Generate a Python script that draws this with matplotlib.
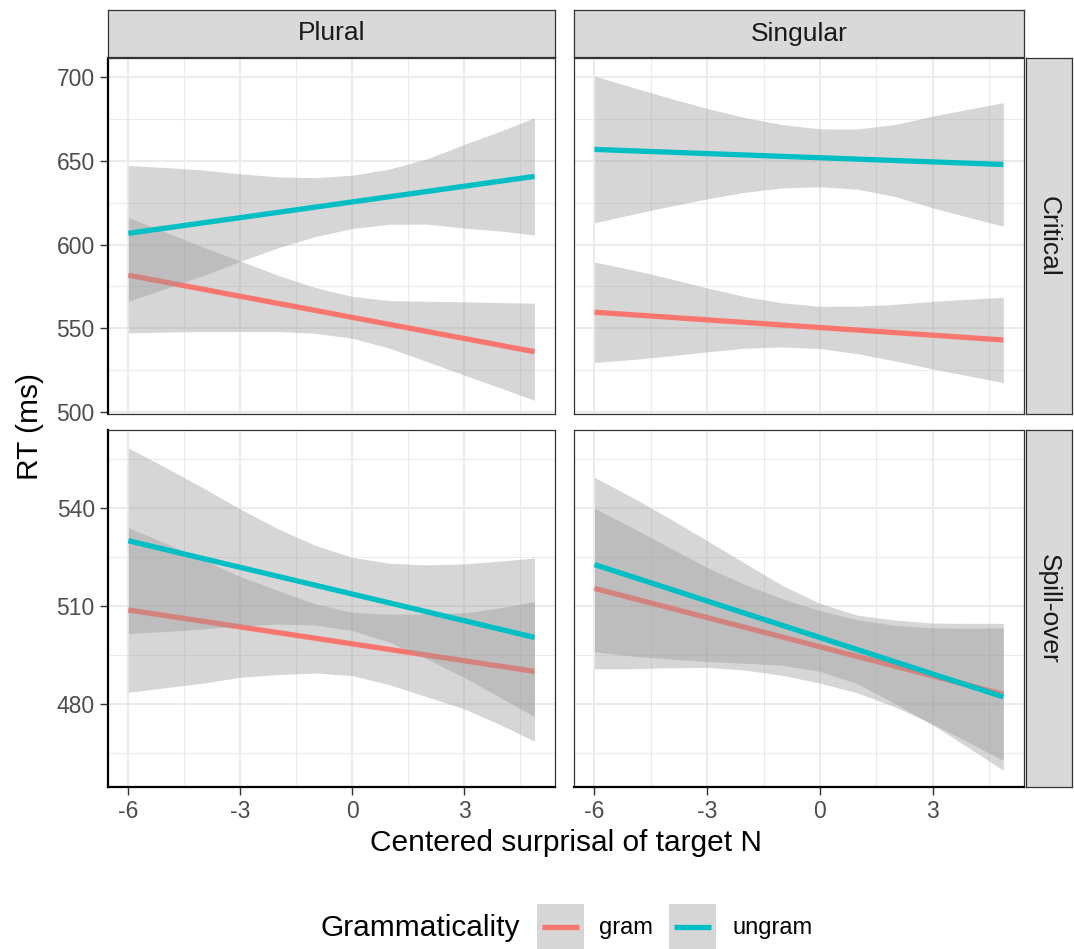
import matplotlib.pyplot as plt
from matplotlib.lines import Line2D
from matplotlib.patches import Rectangle

plt.rcParams['font.family'] = ['Liberation Sans', 'DejaVu Sans']
plt.rcParams['axes.unicode_minus'] = False

x_pts = [-6, -5, -4, -3, -2, -1, 0, 1, 2, 3, 4, 4.88]
# fitted lines: value at x = -6 and at x = 4.88
x_line = [-6, 4.88]

col_names = ['Plural', 'Singular']
row_names = ['Critical', 'Spill-over']
groups = ['gram', 'ungram']
colors = {'gram': '#F8766D', 'ungram': '#00BFC4'}

# Critical, Plural
crit_pl_gram_line = [581.7, 536.0]
crit_pl_gram_lo = [547.2, 547.7, 548.1, 548.0, 548.1, 547.0, 544.0, 538.1, 530.1, 522.0, 514.1, 507.0]
crit_pl_gram_hi = [616.2, 607.3, 598.5, 590.2, 581.7, 574.4, 569.0, 566.5, 566.1, 565.8, 565.3, 565.0]
crit_pl_ungram_line = [606.7, 640.7]
crit_pl_ungram_lo = [566.2, 573.6, 581.5, 590.0, 598.0, 604.7, 609.6, 612.1, 612.2, 609.8, 608.0, 605.7]
crit_pl_ungram_hi = [647.2, 646.0, 644.5, 642.2, 640.4, 639.9, 641.4, 645.1, 651.2, 659.8, 668.0, 675.7]

# Critical, Singular
crit_sg_gram_line = [559.6, 543.0]
crit_sg_gram_lo = [529.6, 531.3, 533.5, 535.9, 538.1, 538.8, 537.9, 534.8, 530.5, 525.7, 521.4, 517.5]
crit_sg_gram_hi = [589.6, 584.9, 579.7, 574.1, 568.9, 565.2, 563.1, 563.2, 564.3, 566.1, 567.4, 568.5]
crit_sg_ungram_line = [656.8, 647.8]
crit_sg_ungram_lo = [613.0, 618.0, 622.8, 627.3, 631.2, 633.8, 634.5, 633.0, 628.7, 621.9, 616.0, 610.9]
crit_sg_ungram_hi = [700.6, 694.0, 687.4, 681.3, 675.8, 671.6, 669.1, 669.0, 671.7, 676.7, 681.0, 684.7]

# Spill-over, Plural
spill_pl_gram_line = [508.8, 490.0]
spill_pl_gram_lo = [483.6, 485.0, 486.4, 488.2, 489.0, 489.5, 488.7, 485.9, 482.2, 478.5, 473.5, 468.6]
spill_pl_gram_hi = [534.0, 529.2, 524.2, 519.0, 514.8, 510.7, 508.1, 507.5, 507.6, 507.9, 509.5, 511.4]
spill_pl_ungram_line = [530.0, 500.4]
spill_pl_ungram_lo = [501.6, 502.2, 503.0, 503.9, 504.5, 504.2, 502.5, 498.9, 493.8, 488.1, 481.8, 476.1]
spill_pl_ungram_hi = [558.4, 552.4, 546.2, 539.7, 533.7, 528.6, 524.9, 523.1, 522.6, 522.9, 523.8, 524.7]

# Spill-over, Singular
spill_sg_gram_line = [515.4, 483.0]
spill_sg_gram_lo = [490.8, 490.8, 491.1, 491.2, 490.4, 488.8, 486.4, 483.4, 479.1, 473.9, 468.0, 462.7]
spill_sg_gram_hi = [540.0, 534.0, 527.9, 521.8, 516.6, 512.2, 508.6, 505.8, 504.1, 503.3, 503.2, 503.3]
spill_sg_ungram_line = [522.7, 482.2]
spill_sg_ungram_lo = [496.0, 494.7, 493.8, 493.0, 492.5, 491.9, 490.0, 486.2, 480.1, 473.6, 466.3, 459.7]
spill_sg_ungram_hi = [549.4, 543.3, 536.8, 530.0, 523.1, 516.3, 510.8, 507.2, 505.7, 504.8, 504.7, 504.7]

panels = {
    (0, 0): {'gram': (crit_pl_gram_line, crit_pl_gram_lo, crit_pl_gram_hi),
             'ungram': (crit_pl_ungram_line, crit_pl_ungram_lo, crit_pl_ungram_hi)},
    (0, 1): {'gram': (crit_sg_gram_line, crit_sg_gram_lo, crit_sg_gram_hi),
             'ungram': (crit_sg_ungram_line, crit_sg_ungram_lo, crit_sg_ungram_hi)},
    (1, 0): {'gram': (spill_pl_gram_line, spill_pl_gram_lo, spill_pl_gram_hi),
             'ungram': (spill_pl_ungram_line, spill_pl_ungram_lo, spill_pl_ungram_hi)},
    (1, 1): {'gram': (spill_sg_gram_line, spill_sg_gram_lo, spill_sg_gram_hi),
             'ungram': (spill_sg_ungram_line, spill_sg_ungram_lo, spill_sg_ungram_hi)},
}

x_ticks = [-6, -3, 0, 3]
x_minor = [-4.5, -1.5, 1.5, 4.5]
y_ticks = [[500, 550, 600, 650, 700], [480, 510, 540]]
y_minor = [[525, 575, 625, 675], [465, 495, 525, 555]]
y_lims = [(498.8, 711.4), (454.6, 563.9)]
x_lim = (-6.545, 5.43)

W, H = 1074, 949
fig = plt.figure(figsize=(W / 100, H / 100), dpi=100)

def fx(px):
    return px / W

def fy(py):
    return 1 - py / H

col_px = [(108, 555), (574, 1024)]
row_px = [(58, 414), (430, 787)]

def strip_axes(rect, label, rot):
    sax = fig.add_axes(rect)
    sax.set_facecolor('#D9D9D9')
    sax.set_xticks([])
    sax.set_yticks([])
    for sp in sax.spines.values():
        sp.set_color('#333333')
        sp.set_linewidth(0.9)
    sax.text(0.5, 0.5, label, ha='center', va='center', rotation=rot,
             fontsize=19, color='#1A1A1A', transform=sax.transAxes)

for r in range(2):
    for c in range(2):
        x0, x1 = col_px[c]
        y0, y1 = row_px[r]
        ax = fig.add_axes([fx(x0), fy(y1), fx(x1 - x0), (y1 - y0) / H])
        ax.set_facecolor('white')
        ax.set_xlim(*x_lim)
        ax.set_ylim(*y_lims[r])
        ax.set_xticks(x_ticks)
        ax.set_xticks(x_minor, minor=True)
        ax.set_yticks(y_ticks[r])
        ax.set_yticks(y_minor[r], minor=True)
        ax.grid(True, which='major', color='#EBEBEB', lw=1.4, zorder=0)
        ax.grid(True, which='minor', color='#EBEBEB', lw=0.8, zorder=0)
        ax.set_axisbelow(True)
        ax.tick_params(which='minor', length=0)
        ax.tick_params(which='major', length=5.5, width=1, color='#333333',
                       labelcolor='#4D4D4D', labelsize=16.5, pad=4)
        for sp in ax.spines.values():
            sp.set_color('#333333')
            sp.set_linewidth(0.9)
        if c == 0:
            ax.set_yticklabels([str(v) for v in y_ticks[r]])
            ax.spines['left'].set_color('black')
            ax.spines['left'].set_linewidth(1.6)
        else:
            ax.tick_params(axis='y', length=0, labelleft=False)
        if r == 1:
            ax.set_xticklabels([str(v) for v in x_ticks])
            ax.spines['bottom'].set_color('black')
            ax.spines['bottom'].set_linewidth(1.6)
        else:
            ax.tick_params(axis='x', length=0, labelbottom=False)

        # ribbon then line per group, like geom_smooth
        for g in groups:
            line, lo, hi = panels[(r, c)][g]
            ax.fill_between(x_pts, lo, hi, color='#999999', alpha=0.4, lw=0, zorder=2)
            ax.plot(x_line, line, color=colors[g], lw=3.8, solid_capstyle='butt', zorder=2)

        if r == 0:
            strip_axes([fx(x0), fy(57), fx(x1 - x0), 47 / H], col_names[c], 0)
        if c == 1:
            strip_axes([fx(1026), fy(y1), fx(46), (y1 - y0) / H], row_names[r], -90)

fig.text(fx(30), fy(426), 'RT (ms)', rotation=90, ha='center', va='center',
         fontsize=21.5, color='black')
fig.text(fx(566), fy(843), 'Centered surprisal of target N', ha='center', va='center',
         fontsize=21.5, color='black')

# legend drawn by hand, ggplot style (title on the left)
fig.text(fx(321), fy(928), 'Grammaticality', ha='left', va='center',
         fontsize=21.5, color='black')
key_x = [537, 669]
text_x = [599, 732]
for g, kx, tx in zip(groups, key_x, text_x):
    fig.add_artist(Rectangle((fx(kx), fy(950)), fx(47), 46 / H, transform=fig.transFigure,
                             facecolor='#D6D6D6', edgecolor='none'))
    fig.add_artist(Line2D([fx(kx + 5), fx(kx + 42)], [fy(927), fy(927)],
                          transform=fig.transFigure, color=colors[g], lw=3.8,
                          solid_capstyle='butt'))
    fig.text(fx(tx), fy(928), g, ha='left', va='center', fontsize=17, color='black')

fig.savefig('out.png', dpi=100)
